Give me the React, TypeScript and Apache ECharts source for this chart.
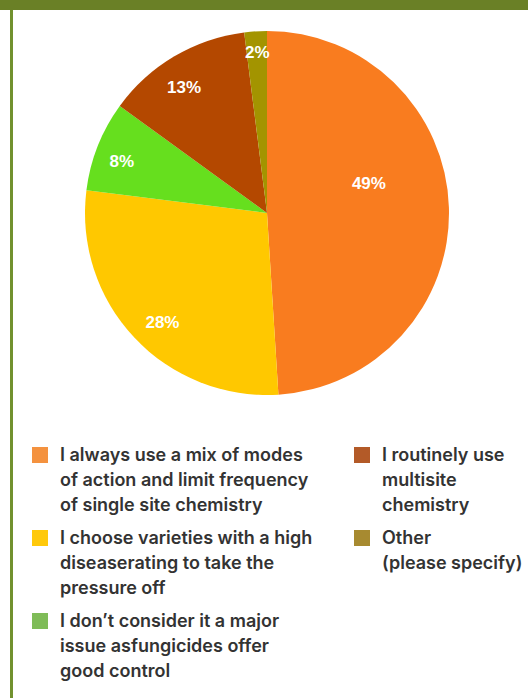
import React, { useEffect, useRef } from "react";
import * as echarts from "echarts";

// Survey answers, in clockwise order from 12 o'clock
const categories = [
  "I always use a mix of modes\nof action and limit frequency\nof single site chemistry",
  "I choose varieties with a high\ndiseaserating to take the\npressure off",
  "I don\u2019t consider it a major\nissue asfungicides offer\ngood control",
  "I routinely use\nmultisite\nchemistry",
  "Other\n(please specify)",
];
const shares = [49, 28, 8, 13, 2];

// Slice fills and the flatter swatch colours used in the key
const sliceColors = ["#f97c1f", "#ffc800", "#66df1e", "#b44800", "#a39400"];
const keyColors = ["#f4923f", "#ffc90b", "#7fbc58", "#b35a28", "#a78a30"];

const leftKey = [0, 1, 2];
const rightKey = [3, 4];

// Square swatch near the top of a tall box so it lines up with the first text line
const swatch =
  "path://M0 0h0.01v0.01h-0.01Z M0 5H16V21H0Z M23 75h-0.01v-0.01h0.01Z";

const keyText = (name: string) => {
  const lines = name.split("\n");
  while (lines.length < 3) lines.push(" ");
  return lines.join("\n");
};

function makeKey(idx: number[], left: number) {
  return {
    orient: "vertical",
    left,
    top: 442,
    padding: 0,
    icon: swatch,
    itemWidth: 23,
    itemHeight: 75,
    itemGap: 8,
    selectedMode: false,
    formatter: keyText,
    textStyle: {
      fontFamily: "Inter, 'Liberation Sans', sans-serif",
      fontWeight: 600,
      fontSize: 18,
      lineHeight: 25,
      color: "#333333",
    },
    data: idx.map((i) => ({
      name: categories[i],
      itemStyle: { color: keyColors[i] },
    })),
  };
}

// nudges for labels that sit off the ring's mid radius
const labelShift: Record<number, number[]> = {
  0: [-51, -25],
  1: [7, 5],
  2: [-3, 5],
  3: [-5, 6],
  4: [0, -8],
};

export default function App() {
  const ref = useRef<HTMLDivElement>(null);

  useEffect(() => {
    if (!ref.current) return;
    const chart = echarts.init(ref.current, null, { renderer: "svg" });
    const slices = categories.map((name, i) => ({
      name,
      value: shares[i],
      itemStyle: { color: sliceColors[i] },
    }));
    chart.setOption({
      animation: false,
      backgroundColor: "#ffffff",
      graphic: [
        {
          type: "rect",
          shape: { x: 0, y: 0, width: 528, height: 10 },
          style: { fill: "#6a8026" },
        },
        {
          type: "rect",
          shape: { x: 10, y: 10, width: 3, height: 688 },
          style: { fill: "#71912f" },
        },
      ],
      legend: [makeKey(leftKey, 32), makeKey(rightKey, 354)],
      series: [
        {
          type: "pie",
          center: [267, 213],
          radius: 182,
          startAngle: 90,
          clockwise: true,
          silent: true,
          label: { show: false },
          labelLine: { show: false },
          itemStyle: { borderWidth: 0 },
          data: slices,
        },
        {
          // transparent ring that carries the percentage labels
          type: "pie",
          center: [267, 213],
          radius: [118, 182],
          startAngle: 90,
          clockwise: true,
          silent: true,
          legendHoverLink: false,
          itemStyle: { color: "rgba(0,0,0,0)", borderWidth: 0 },
          labelLine: { show: false },
          label: {
            show: true,
            position: "inside",
            formatter: "{c}%",
            color: "#ffffff",
            fontFamily: "'Liberation Sans', Arial, sans-serif",
            fontWeight: "bold",
            fontSize: 17,
          },
          data: categories.map((name, i) => ({
            name: name + " ",
            value: shares[i],
            label: labelShift[i] ? { offset: labelShift[i] } : undefined,
          })),
        },
      ],
    });
    return () => chart.dispose();
  }, []);

  return (
    <div
      ref={ref}
      style={{ position: "absolute", left: 0, top: 0, width: 528, height: 698 }}
    />
  );
}
